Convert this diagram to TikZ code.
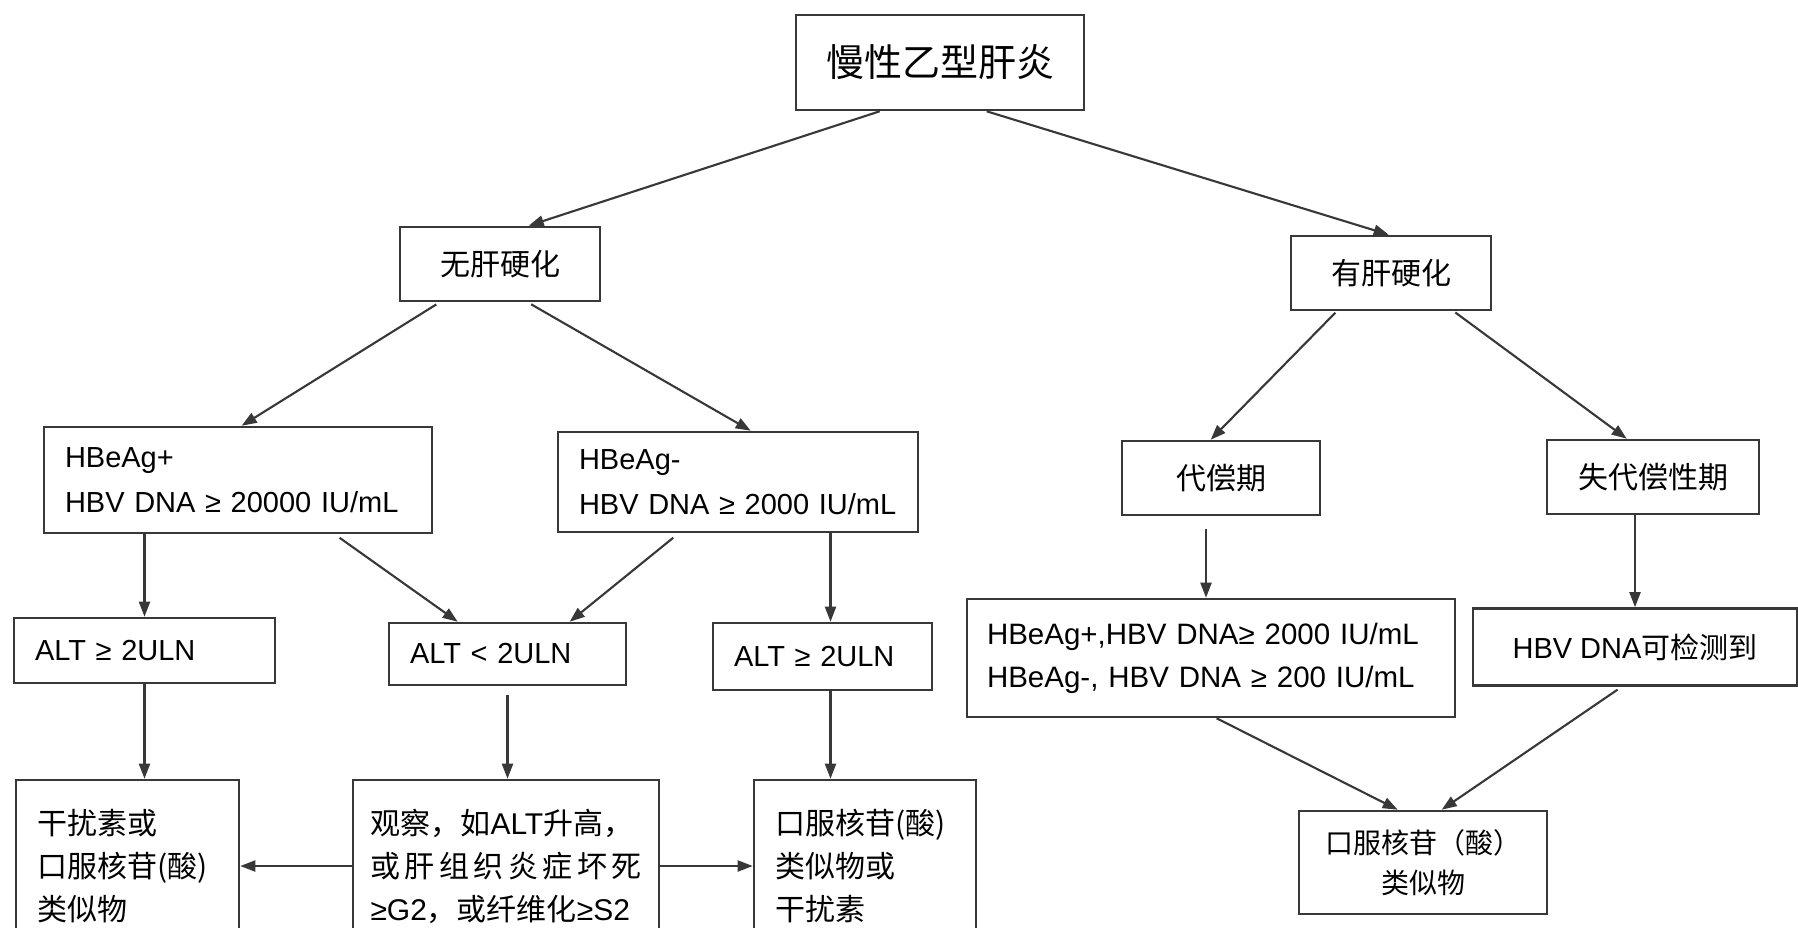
\documentclass[tikz,border=0pt]{standalone}
\usepackage{fontspec}
\setmainfont{Liberation Sans}
\newfontfamily\cjk{Noto Sans CJK SC}
\newfontfamily\latf{Liberation Sans}
\usetikzlibrary{arrows.meta,calc}
\begin{document}
\begin{tikzpicture}[x=1pt,y=-1pt,
  box/.style={draw=black!78, line width=2.6pt, fill=white, inner sep=0pt},
  lbox/.style={box, align=left, inner xsep=21pt},
  cbox/.style={box, align=center},
  arr/.style={draw=black!78, line width=2.1pt, -{Triangle[length=15pt,width=11pt]}},
  lat/.style={font=\fontsize{29}{45}\selectfont},
  zh/.style={font=\cjk\fontsize{30}{43}\selectfont}
]
\useasboundingbox (0,0) rectangle (1798,927);
\fill[white] (0,0) rectangle (1798,927);
\clip (0,0) rectangle (1798,927);

% level 0
\node[cbox, minimum width=288pt, minimum height=95pt, font=\cjk\fontsize{38}{44}\selectfont] (top) at (940,62.5) {慢性乙型肝炎};
% level 1
\node[cbox, zh, minimum width=200pt, minimum height=74pt] (nolc) at (500,264) {无肝硬化};
\node[cbox, zh, minimum width=200pt, minimum height=74pt] (lc) at (1391,273) {有肝硬化};
% level 2
\node[lbox, lat, minimum width=388pt, minimum height=106pt, text width=346pt] (hbp) at (238,480) {HBeAg+\\HBV DNA ≥ 20000 IU/mL};
\node[lbox, lat, minimum width=360pt, minimum height=100pt, text width=318pt] (hbn) at (738,482) {HBeAg-\\HBV DNA ≥ 2000 IU/mL};
\node[cbox, zh, minimum width=198pt, minimum height=74pt] (comp) at (1221,478) {代偿期};
\node[cbox, zh, minimum width=212pt, minimum height=74pt] (decomp) at (1653,477) {失代偿性期};
% level 3
\node[lbox, lat, minimum width=261pt, minimum height=65pt, text width=219pt] (altL) at (144.5,650.5) {ALT ≥ 2ULN};
\node[lbox, lat, minimum width=237pt, minimum height=62pt, text width=195pt] (altM) at (507.5,654) {ALT < 2ULN};
\node[lbox, lat, minimum width=219pt, minimum height=67pt, text width=177pt] (altR) at (822.5,656.5) {ALT ≥ 2ULN};
\node[lbox, minimum width=488pt, minimum height=118pt, text width=448pt, inner xsep=20pt, font=\fontsize{29.5}{43}\selectfont] (dnaC) at (1211,658) {HBeAg+,HBV DNA≥ 2000 IU/mL\\HBeAg-, HBV DNA ≥ 200 IU/mL};
\node[cbox, lat, minimum width=324pt, minimum height=77pt] (dnaD) at (1635,647) {HBV DNA{\cjk 可检测到}};
% level 4
\node[lbox, zh, minimum width=223pt, minimum height=172pt, text width=181pt] (gan) at (127.5,866) {干扰素或\\口服核苷(酸)\\类似物};
\node[lbox, zh, minimum width=306pt, minimum height=172pt, text width=271pt, inner xsep=17.5pt] (obs) at (506,866) {观察，如{\latf ALT}升高，\\\makebox[271pt][l]{或\hfill 肝\hfill 组\hfill 织\hfill 炎\hfill 症\hfill 坏\hfill 死}\\{\latf ≥G2}，或纤维化{\latf ≥S2}};
\node[lbox, zh, minimum width=222pt, minimum height=172pt, text width=180pt] (kfM) at (865,866) {口服核苷(酸)\\类似物或\\干扰素};
\node[cbox, minimum width=248pt, minimum height=103pt, font=\cjk\fontsize{28}{40}\selectfont] (fin) at (1423,862.5) {口服核苷（酸）\\类似物};

% helper coordinates
\coordinate (ra) at ([xshift=8pt]altR.north);
\coordinate (cx) at ([xshift=-5pt]dnaC.north);

% connectors
\draw[arr] ([xshift=85pt]top.south west) -- ([xshift=130pt]nolc.north west);
\draw[arr] ([xshift=192pt]top.south west) -- ([xshift=99pt]lc.north west);
\draw[arr, shorten <=4pt] ([xshift=41pt]nolc.south west) -- ([xshift=199pt]hbp.north west);
\draw[arr, shorten <=4pt] ([xshift=129pt]nolc.south west) -- ([xshift=194pt]hbn.north west);
\draw[arr, shorten <=2pt] ([xshift=47pt]lc.south west) -- ([xshift=90pt]comp.north west);
\draw[arr, shorten <=2pt] ([xshift=164pt]lc.south west) -- ([xshift=81pt]decomp.north west);
\draw[arr] (hbp.south -| altL.north) -- (altL.north);
\draw[arr, shorten <=6pt] ([xshift=292pt]hbp.south west) -- ([xshift=70pt]altM.north west);
\draw[arr, shorten <=7pt] ([xshift=122pt]hbn.south west) -- ([xshift=182pt]altM.north west);
\draw[arr] (ra |- hbn.south) -- (ra);
\draw[arr, shorten <=13pt] (cx |- comp.south) -- (cx);
\draw[arr] (dnaD.north |- decomp.south) -- (dnaD.north);
\draw[arr] (altL.south) -- (altL.south |- gan.north);
\draw[arr, shorten <=9pt] (altM.south) -- (altM.south |- obs.north);
\draw[arr] (ra |- altR.south) -- (ra |- kfM.north);
\draw[arr] (obs.west) -- (gan.east);
\draw[arr] (obs.east) -- (kfM.west);
\draw[arr] ([xshift=251pt]dnaC.south west) -- ([xshift=100pt]fin.north west);
\draw[arr, shorten <=5pt] ([xshift=150pt]dnaD.south west) -- ([xshift=144pt]fin.north west);
\end{tikzpicture}
\end{document}
